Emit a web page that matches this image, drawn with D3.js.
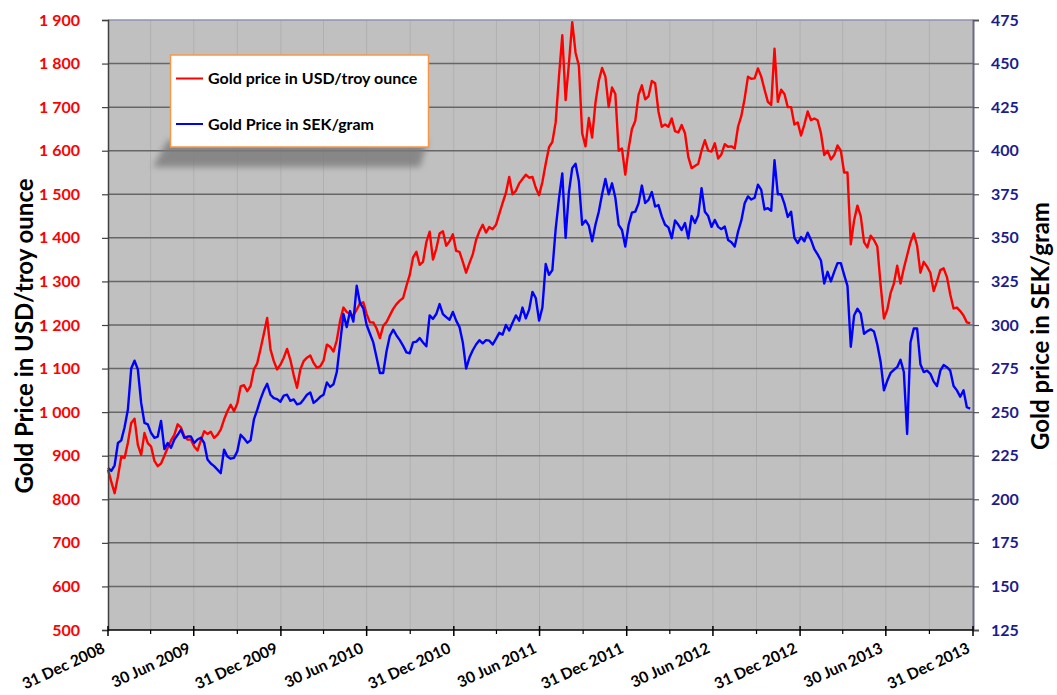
<!DOCTYPE html>
<html>
<head>
<meta charset="utf-8">
<script src="https://cdn.jsdelivr.net/npm/d3@7"></script>
<style>
  body { margin: 0; background: #fff; }
  text { font-family: Lato, "Open Sans", sans-serif; font-weight: bold; }
</style>
</head>
<body>
<svg width="1057" height="695"></svg>
<script>
// weekly readings, first week 31 Dec 2008
var firstDay = "2008-12-31";
var lastDay = "2013-12-31";

var usd = [
  868, 840, 814, 852, 898, 895, 930, 975, 985, 925,
  902, 952, 929, 921, 888, 876, 882, 900, 918, 935,
  948, 972, 965, 945, 937, 937, 921, 912, 935, 956,
  950, 955, 941, 948, 960, 983, 1002, 1017, 1002, 1020,
  1059, 1062, 1048, 1060, 1098, 1112, 1145, 1180, 1216, 1144,
  1117, 1098, 1109, 1125, 1145, 1120, 1085, 1056, 1098, 1117,
  1125, 1130, 1113, 1102, 1105, 1118, 1155, 1150, 1139, 1165,
  1210, 1240, 1230, 1225, 1222, 1235, 1250, 1252, 1225, 1206,
  1206, 1192, 1170, 1198, 1207, 1222, 1237, 1248, 1256, 1262,
  1290, 1315, 1355, 1368, 1338, 1345, 1390, 1414, 1350, 1375,
  1410, 1415, 1382, 1392, 1408, 1370, 1368, 1345, 1320, 1342,
  1362, 1395, 1415, 1430, 1412, 1425, 1420, 1430, 1455, 1480,
  1503, 1540, 1500, 1508, 1525, 1535, 1545, 1538, 1540, 1515,
  1498, 1528, 1570, 1608, 1620, 1665, 1770, 1865, 1716, 1800,
  1895, 1825, 1795, 1640, 1610, 1675, 1630, 1710, 1760, 1790,
  1770, 1700, 1745, 1730, 1600, 1605, 1545, 1605, 1650, 1668,
  1728, 1750, 1718, 1725, 1760, 1755, 1690, 1655, 1660, 1655,
  1674, 1645, 1642, 1659, 1640, 1586, 1560, 1565, 1570, 1600,
  1624, 1600, 1598, 1617, 1582, 1592, 1615, 1609, 1610, 1605,
  1655, 1680, 1720, 1770, 1765, 1766, 1789, 1770, 1740, 1712,
  1705, 1834, 1712, 1740, 1730, 1700, 1700, 1660, 1665, 1635,
  1660, 1690, 1670, 1674, 1670, 1640, 1590, 1600, 1580, 1590,
  1612, 1600, 1550, 1550, 1385, 1440, 1474, 1450, 1390, 1378,
  1405, 1395, 1380, 1292, 1215, 1235, 1273, 1295, 1336, 1295,
  1330, 1360, 1390, 1410, 1382, 1320, 1345, 1334, 1320, 1278,
  1300, 1326, 1330, 1310, 1270, 1238, 1240, 1232, 1222, 1206,
  1204
];

var sek = [
  218, 216.3, 219.5, 232.3, 233.8, 241.3, 251.5, 275, 279.5, 274.5,
  255.3, 243.8, 243, 238, 235.3, 236, 245, 228.8, 232.3, 229.5,
  234.3, 237, 240, 235.3, 236, 236, 232.3, 234.3, 235.3, 232.3,
  222.8, 220.5, 219, 217, 215, 228.5, 224.5, 223.3, 223.8, 227.5,
  237, 235, 232.5, 233.8, 245.8, 251.3, 257.5, 262.5, 266.3, 260,
  258, 257.5, 256, 259.5, 260, 256.5, 257.3, 254.5, 255, 257.3,
  260, 261.3, 255.3, 256.8, 258.8, 260, 267, 264.5, 266, 273,
  289.5, 306.3, 298.8, 308, 302, 322.5, 312.5, 309.5, 300, 295,
  290, 281.3, 272.5, 272.5, 285, 293.8, 297.3, 294, 291.3, 288,
  284.3, 283.8, 290, 290.5, 292.5, 290, 287.8, 305.5, 303.5, 306.3,
  312, 306.3, 304.5, 303, 307.5, 302.5, 298.8, 290, 275, 281.3,
  285.5, 288.8, 291.3, 289.5, 291.3, 291, 288.8, 292, 295.5, 294.5,
  300, 296.8, 301.3, 305.5, 302.5, 310, 303.8, 308.8, 319, 315.5,
  302.5, 310, 335, 328.8, 331.5, 355, 372.5, 387, 350, 376.3,
  390, 392.5, 382.5, 357.5, 360, 357, 348, 357.5, 365, 375,
  383.8, 375, 381.3, 373, 357.5, 354.5, 345, 357.5, 364.5, 365,
  369.8, 380, 370, 371.8, 376.3, 368, 368.8, 362.3, 357.5, 356,
  349.8, 360, 357.5, 354.5, 358.5, 349.8, 362.5, 358.5, 363, 378.5,
  365, 362.5, 356.3, 360.3, 356.3, 355, 356.5, 348.8, 347.5, 345,
  353.5, 360, 369.8, 373.8, 372, 373, 380.5, 377.5, 366.3, 367,
  365.5, 394.5, 375, 375, 369.5, 362, 365, 350, 347, 350.5,
  348, 353, 348.8, 343.5, 340.5, 337, 323.8, 330.5, 325, 330.5,
  335.5, 335.5, 328.8, 322.5, 287.5, 305.5, 309.3, 306.5, 295, 296.5,
  297.5, 296.3, 288.8, 278.8, 262.5, 268, 272.5, 274.3, 275.8, 280,
  273, 237.5, 290, 298, 298, 277.5, 273, 273.8, 272, 267.5,
  265, 273.8, 277, 275.8, 273.8, 265, 262.5, 258.8, 262.5, 252.8,
  252
];

var majorTicks = ["2008-12-31", "2009-06-30", "2009-12-31", "2010-06-30", "2010-12-31", "2011-06-30",
                  "2011-12-31", "2012-06-30", "2012-12-31", "2013-06-30", "2013-12-31"];
var minorTicks = ["2009-03-31", "2009-09-30", "2010-03-31", "2010-09-30", "2011-03-31", "2011-09-30",
                  "2012-03-31", "2012-09-30", "2013-03-31", "2013-09-30"];
var usdTicks = d3.range(500, 1901, 100);
var sekTicks = d3.range(125, 476, 25);

var seriesNames = ["Gold price in USD/troy ounce", "Gold Price in SEK/gram"];
var seriesColors = ["#ff0000", "#0000ff"];

var svg = d3.select("svg");
var box = {left: 108, right: 973, top: 20, bottom: 630};

var parse = d3.utcParse("%Y-%m-%d");
var start = parse(firstDay);
var weeks = d3.utcDay.range(start, d3.utcDay.offset(parse(lastDay), 1), 7);

var x = d3.scaleUtc().domain([start, parse(lastDay)]).range([box.left, box.right]);
var yUsd = d3.scaleLinear().domain([500, 1900]).range([box.bottom, box.top]);
var ySek = d3.scaleLinear().domain([125, 475]).range([box.bottom, box.top]);

var loc = d3.formatLocale({decimal: ".", thousands: " ", grouping: [3], currency: ["", ""]});
var fmt = loc.format(",");

// plot background
svg.append("rect")
  .attr("x", box.left).attr("y", box.top)
  .attr("width", box.right - box.left).attr("height", box.bottom - box.top)
  .attr("fill", "#c0c0c0");

// vertical grid (quarters)
svg.append("g").selectAll("line")
  .data(majorTicks.concat(minorTicks).map(parse).filter(function (d) { return +d > +start && +d < +parse(lastDay); }))
  .enter().append("line")
  .attr("x1", function (d) { return x(d); }).attr("x2", function (d) { return x(d); })
  .attr("y1", box.top).attr("y2", box.bottom)
  .attr("stroke", "#b0b0b0").attr("stroke-width", 1);

// horizontal grid
svg.append("g").selectAll("line")
  .data(usdTicks.slice(1, -1))
  .enter().append("line")
  .attr("x1", box.left).attr("x2", box.right)
  .attr("y1", function (d) { return yUsd(d); }).attr("y2", function (d) { return yUsd(d); })
  .attr("stroke", "#666").attr("stroke-width", 1.5);

// top border
svg.append("line")
  .attr("x1", box.left).attr("x2", box.right).attr("y1", box.top).attr("y2", box.top)
  .attr("stroke", "#9090b0").attr("stroke-width", 1.5);

// series
var lineUsd = d3.line().x(function (d, i) { return x(weeks[i]); }).y(function (d) { return yUsd(d); });
var lineSek = d3.line().x(function (d, i) { return x(weeks[i]); }).y(function (d) { return ySek(d); });
svg.append("path").datum(usd).attr("d", lineUsd)
  .attr("fill", "none").attr("stroke", seriesColors[0]).attr("stroke-width", 2.4).attr("stroke-linejoin", "round");
svg.append("path").datum(sek).attr("d", lineSek)
  .attr("fill", "none").attr("stroke", seriesColors[1]).attr("stroke-width", 2.4).attr("stroke-linejoin", "round");

// left axis
var leftAxis = d3.axisLeft(yUsd).tickValues(usdTicks).tickSize(6).tickPadding(22).tickFormat(fmt);
var gl = svg.append("g").attr("transform", "translate(" + box.left + ",0)").call(leftAxis);
gl.select(".domain").attr("stroke", "#404040").attr("stroke-width", 1.5);
gl.selectAll(".tick line").attr("stroke", "#404040").attr("stroke-width", 1.2);
gl.selectAll(".tick text").attr("fill", "#ff0000").style("font-size", "16px");

// right axis
var rightAxis = d3.axisRight(ySek).tickValues(sekTicks).tickSize(6).tickPadding(12);
var gr = svg.append("g").attr("transform", "translate(" + box.right + ",0)").call(rightAxis);
gr.select(".domain").attr("stroke", "#6a6a86").attr("stroke-width", 2);
gr.selectAll(".tick line").attr("stroke", "#555").attr("stroke-width", 1.2);
gr.selectAll(".tick text").attr("fill", "#1c1c8c").style("font-size", "16px");

// bottom axis
var gb = svg.append("g").attr("transform", "translate(0," + box.bottom + ")");
gb.append("line").attr("x1", box.left).attr("x2", box.right)
  .attr("stroke", "#000").attr("stroke-width", 1.5);
gb.selectAll(".minor").data(minorTicks.map(parse)).enter().append("line")
  .attr("class", "minor")
  .attr("x1", function (d) { return x(d); }).attr("x2", function (d) { return x(d); })
  .attr("y1", 0).attr("y2", 4).attr("stroke", "#000").attr("stroke-width", 1.2);
gb.selectAll(".major").data(majorTicks.map(parse)).enter().append("line")
  .attr("class", "major")
  .attr("x1", function (d) { return x(d); }).attr("x2", function (d) { return x(d); })
  .attr("y1", -4).attr("y2", 6).attr("stroke", "#000").attr("stroke-width", 1.5);
var dateFmt = d3.utcFormat("%d %b %Y");
gb.selectAll("text").data(majorTicks.map(parse)).enter().append("text")
  .attr("transform", function (d) { return "translate(" + (x(d) - 2) + ",22) rotate(-25)"; })
  .attr("text-anchor", "end")
  .style("font-size", "15.5px")
  .attr("fill", "#000")
  .text(function (d) { return dateFmt(d); });

// axis titles
svg.append("text")
  .attr("transform", "translate(33,336) rotate(-90)")
  .attr("text-anchor", "middle")
  .style("font-size", "24px")
  .text("Gold Price in USD/troy ounce");
svg.append("text")
  .attr("transform", "translate(1049,326) rotate(-90)")
  .attr("text-anchor", "middle")
  .style("font-size", "24px")
  .text("Gold price in SEK/gram");

// legend with shadow
var defs = svg.append("defs");
defs.append("filter").attr("id", "blur").attr("x", "-20%").attr("y", "-50%").attr("width", "140%").attr("height", "200%")
  .append("feGaussianBlur").attr("stdDeviation", 3);
svg.append("path")
  .attr("d", "M168,140 L428,140 L420,167 L153,167 Z")
  .attr("fill", "#7a7a7a").attr("opacity", 0.8)
  .attr("filter", "url(#blur)");
svg.append("rect")
  .attr("x", 170.5).attr("y", 55).attr("width", 258).attr("height", 92)
  .attr("fill", "#fff").attr("stroke", "#f79646").attr("stroke-width", 1.5);
var lg = svg.append("g").selectAll("g").data(seriesNames).enter().append("g")
  .attr("transform", function (d, i) { return "translate(176," + (78.5 + i * 45.5) + ")"; });
lg.append("line").attr("x1", 0).attr("x2", 27)
  .attr("stroke", function (d, i) { return seriesColors[i]; }).attr("stroke-width", 2);
lg.append("text").attr("x", 32).attr("y", 5.5)
  .style("font-size", "16px").attr("fill", "#000")
  .text(function (d) { return d; });
</script>
</body>
</html>
